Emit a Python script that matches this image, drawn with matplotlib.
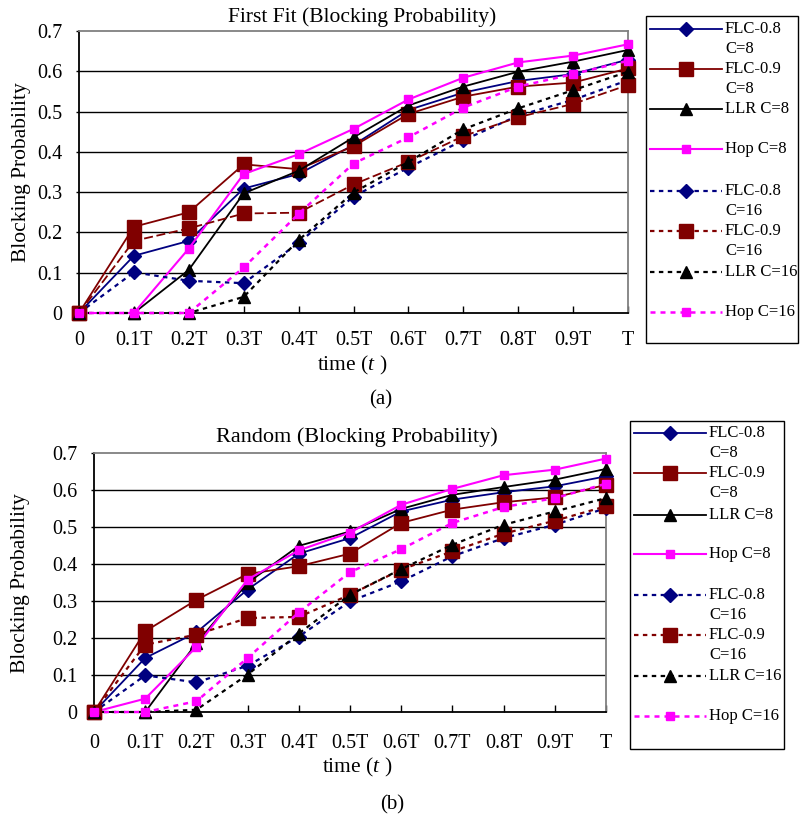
import matplotlib
matplotlib.use("Agg")
import matplotlib.pyplot as plt
from matplotlib.lines import Line2D
from matplotlib.patches import Rectangle

plt.rcParams['font.family'] = ['Liberation Serif', 'DejaVu Serif']
plt.rcParams['mathtext.fontset'] = 'custom'
plt.rcParams['mathtext.it'] = 'Liberation Serif:italic'
plt.rcParams['mathtext.rm'] = 'Liberation Serif'

# ---------------- data ----------------
time_labels = ["0", "0.1T", "0.2T", "0.3T", "0.4T", "0.5T", "0.6T", "0.7T", "0.8T", "0.9T", "T"]
y_ticks = [0, 0.1, 0.2, 0.3, 0.4, 0.5, 0.6, 0.7]
y_tick_labels = ["0", "0.1", "0.2", "0.3", "0.4", "0.5", "0.6", "0.7"]

series_labels = ["FLC-0.8\nC=8", "FLC-0.9\nC=8", "LLR C=8", "Hop C=8",
                 "FLC-0.8\nC=16", "FLC-0.9\nC=16", "LLR C=16", "Hop C=16"]

# First Fit
ff_flc08_c8 = [0, 0.142, 0.179, 0.309, 0.345, 0.417, 0.504, 0.547, 0.576, 0.593, 0.629]
ff_flc09_c8 = [0, 0.214, 0.250, 0.369, 0.357, 0.414, 0.494, 0.537, 0.562, 0.572, 0.607]
ff_llr_c8 = [0, 0, 0.107, 0.297, 0.353, 0.436, 0.515, 0.562, 0.599, 0.624, 0.653]
ff_hop_c8 = [0, 0, 0.160, 0.345, 0.394, 0.457, 0.530, 0.584, 0.622, 0.639, 0.667]
ff_flc08_c16 = [0, 0.101, 0.080, 0.074, 0.174, 0.289, 0.361, 0.429, 0.490, 0.529, 0.578]
ff_flc09_c16 = [0, 0.179, 0.210, 0.247, 0.249, 0.319, 0.375, 0.439, 0.486, 0.519, 0.566]
ff_llr_c16 = [0, 0, 0, 0.040, 0.181, 0.299, 0.375, 0.456, 0.508, 0.553, 0.599]
ff_hop_c16 = [0, 0, 0, 0.113, 0.246, 0.371, 0.436, 0.510, 0.562, 0.593, 0.626]

# Random
rd_flc08_c8 = [0, 0.146, 0.215, 0.331, 0.428, 0.470, 0.542, 0.574, 0.594, 0.610, 0.637]
rd_flc09_c8 = [0, 0.218, 0.303, 0.373, 0.394, 0.428, 0.511, 0.547, 0.567, 0.580, 0.614]
rd_llr_c8 = [0, 0, 0.186, 0.349, 0.449, 0.488, 0.549, 0.587, 0.608, 0.628, 0.657]
rd_hop_c8 = [0, 0.036, 0.176, 0.358, 0.437, 0.485, 0.560, 0.603, 0.640, 0.655, 0.685]
rd_flc08_c16 = [0, 0.099, 0.080, 0.125, 0.204, 0.299, 0.353, 0.421, 0.470, 0.506, 0.551]
rd_flc09_c16 = [0, 0.182, 0.209, 0.254, 0.257, 0.317, 0.385, 0.434, 0.482, 0.517, 0.556]
rd_llr_c16 = [0, 0, 0.006, 0.101, 0.212, 0.317, 0.386, 0.452, 0.506, 0.542, 0.578]
rd_hop_c16 = [0, 0, 0.029, 0.146, 0.269, 0.378, 0.440, 0.511, 0.554, 0.578, 0.617]

first_fit = [ff_flc08_c8, ff_flc09_c8, ff_llr_c8, ff_hop_c8,
             ff_flc08_c16, ff_flc09_c16, ff_llr_c16, ff_hop_c16]
random_ = [rd_flc08_c8, rd_flc09_c8, rd_llr_c8, rd_hop_c8,
           rd_flc08_c16, rd_flc09_c16, rd_llr_c16, rd_hop_c16]

# ---------------- styles ----------------
NAVY, MAROON, BLACK, MAGENTA = "#000080", "#800000", "#000000", "#FF00FF"
DOT = (0, (2, 2))
styles = [
    dict(color=NAVY, marker="D", ms=7, ls="-", lw=1.3),
    dict(color=MAROON, marker="s", ms=9.5, ls="-", lw=1.3),
    dict(color=BLACK, marker="^", ms=8.5, ls="-", lw=1.3),
    dict(color=MAGENTA, marker="s", ms=6, ls="-", lw=1.5),
    dict(color=NAVY, marker="D", ms=7, ls=DOT, lw=1.6),
    dict(color=MAROON, marker="s", ms=9.5, ls=DOT, lw=1.6),
    dict(color=BLACK, marker="^", ms=8.5, ls=DOT, lw=1.6),
    dict(color=MAGENTA, marker="s", ms=6, ls=DOT, lw=1.8),
]

W, H = 800, 816
fig = plt.figure(figsize=(W / 100, H / 100), dpi=100)


def px_axes(left, top, right, bottom):
    return fig.add_axes([left / W, 1 - bottom / H, (right - left) / W, (bottom - top) / H])


def draw_panel(ax, box, data, ylab_x, xlab_xy, ylab_y, style_override=None,
               tick_fs=14.5, xpad=16):
    l, t, r, b = box
    xs = list(range(len(time_labels)))
    for i, (vals, st) in enumerate(zip(data, styles)):
        st = dict(st)
        if style_override and i in style_override:
            st.update(style_override[i])
        ax.plot(xs, vals, color=st["color"], ls=st["ls"], lw=st["lw"],
                marker=st["marker"], ms=st["ms"], mfc=st["color"], mec=st["color"],
                clip_on=False, zorder=3 + i)
    ax.set_xlim(0, len(time_labels) - 1)
    ax.set_ylim(0, 0.7)
    ax.set_xticks(xs)
    ax.set_xticklabels(time_labels, fontsize=tick_fs)
    ax.set_yticks(y_ticks)
    ax.set_yticklabels(y_tick_labels, fontsize=tick_fs)
    ax.tick_params(axis="x", direction="in", length=5, width=1, pad=xpad, colors="black")
    ax.tick_params(axis="y", direction="out", length=2, width=1, pad=10)
    for yv in y_ticks[1:-1]:
        ax.axhline(yv, color="black", lw=1.0, zorder=1)
    ax.spines["left"].set_color("black")
    ax.spines["bottom"].set_color("black")
    ax.spines["top"].set_color("#808080")
    ax.spines["right"].set_color("#808080")
    for s in ax.spines.values():
        s.set_linewidth(1.3)
    ax.set_ylabel("Blocking Probability", fontsize=15.5, va="center")
    ax.yaxis.set_label_coords((ylab_x - l) / (r - l), (b - ylab_y) / (b - t))
    ax.set_xlabel(r"time ($\mathit{t}$ )", fontsize=15.5, va="center")
    ax.xaxis.set_label_coords((xlab_xy[0] - l) / (r - l), -(xlab_xy[1] - b) / (b - t))


box1 = (79, 31, 628, 313)
ax1 = px_axes(*box1)
draw_panel(ax1, box1, first_fit, 22, (352, 365), 172,
           style_override={5: dict(ls=(0, (5, 2)), lw=1.3)}, xpad=13)
box2 = (94, 453, 606, 712)
ax2 = px_axes(*box2)
draw_panel(ax2, box2, random_, 21, (357, 767), 583)

# ---------------- overlay (titles, legends, captions) in pixel space ----------------
ov = fig.add_axes([0, 0, 1, 1], facecolor="none")
ov.set_xlim(0, W)
ov.set_ylim(H, 0)
ov.axis("off")

ov.text(362, 17, "First Fit (Blocking Probability)", fontsize=15.5, ha="center", va="center")
ov.text(357, 437, "Random (Blocking Probability)", fontsize=16, ha="center", va="center")


def draw_legend(box, line_x0, line_x1, text_x, rows):
    l, t, r, b = box
    ov.add_patch(Rectangle((l, t), r - l, b - t, fill=False, ec="black", lw=1.0))
    for lab, st, y in zip(series_labels, styles, rows):
        ov.add_line(Line2D([line_x0, line_x1], [y, y], color=st["color"], ls=st["ls"],
                           lw=st["lw"]))
        ov.plot([(line_x0 + line_x1) / 2], [y], marker=st["marker"], ms=st["ms"],
                color=st["color"], ls="none")
        for k, part in enumerate(lab.split("\n")):
            ov.text(text_x, y + 20 * k, part, fontsize=12, va="center", ha="left")


draw_legend((646, 16, 798, 343), 650, 722, 725,
            [29, 69, 109, 149, 191, 231, 272, 312])
draw_legend((630, 421, 784, 749), 634, 706, 709,
            [433, 473, 515, 554, 595, 635, 676, 716])

ov.text(381, 400, "(a)", fontsize=15, ha="center", va="center")
ov.text(392, 805, "(b)", fontsize=15, ha="center", va="center")

fig.savefig("out.png", dpi=100)
